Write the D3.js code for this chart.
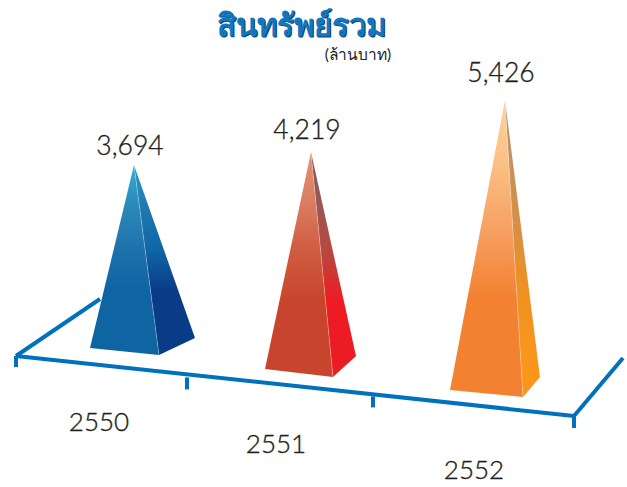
<!DOCTYPE html>
<meta charset="utf-8">
<style>
body { margin: 0; background: #fff; }
text { font-family: Lato, "Noto Sans", sans-serif; font-weight: 300; fill: #231f20; stroke: #231f20; stroke-width: 0.35px; }
.title { font-weight: 700; fill: #1277bf; stroke: none; }
.titleShadow { font-weight: 700; fill: #0b466f; stroke: none; }
.unit { font-weight: 400; stroke: none; }
</style>
<div id="chart"></div>
<script src="https://d3js.org/d3.v7.min.js"></script>
<script>

var years = [2550, 2551, 2552];
var values = [3694, 4219, 5426];
var valueLabels = ["3,694", "4,219", "5,426"];
var titleText = "สินทรัพย์รวม";
var unitText = "(ล้านบาท)";

// one colour list per pyramid, top to bottom
var leftColors = [
  ["#35add6", "#2a88b8", "#1f72ac", "#0e65a2", "#0e65a2"],
  ["#e58f73", "#dc7d62", "#cf5c40", "#c9442d", "#c9442d"],
  ["#fdd3a0", "#fbbf84", "#f6a062", "#f28232", "#f28232"]
];
var rightColors = [
  ["#2d9ac8", "#1f78b0", "#0f68a5", "#0a3b87", "#0a3b87"],
  ["#7d5a5c", "#98585a", "#b8473f", "#ed1c24", "#ed1c24"],
  ["#a89070", "#c4925c", "#d98f40", "#f0921f", "#fa961c"]
];

var width = 627, height = 487;

var svg = d3.select("#chart").append("svg")
    .attr("width", width)
    .attr("height", height);

var defs = svg.append("defs");

// the floor is in perspective so every pyramid gets its own numbers
var frontX = d3.scaleLinear().domain(years).range([159, 333, 523]);
var frontY = d3.scaleLinear().domain(years).range([355, 377, 397]);
var leftW = d3.scaleOrdinal().domain(years).range([69, 68, 73]);
var leftRise = d3.scaleOrdinal().domain(years).range([7, 8, 7]);
var rightW = d3.scaleOrdinal().domain(years).range([36, 23, 17]);
var rightRise = d3.scaleOrdinal().domain(years).range([17, 21, 20]);
var apexShift = d3.scaleOrdinal().domain(years).range([-25, -22, -18]);
var heightScale = d3.scaleLinear().domain(values).range([190, 225, 297]);
var labelGap = d3.scaleOrdinal().domain(years).range([10, 13, 18]);

// axis line runs through the tick positions
var axisX = d3.scaleLinear().domain([0, 3]).range([16, 574]);
var axisY = d3.scaleLinear().domain([16, 574]).range([356, 416]);
var tickX = d3.scaleOrdinal().domain([0, 1, 2, 3]).range([16, 187, 373, 574]);
var tickGap = d3.scaleOrdinal().domain([0, 1, 2, 3]).range([0, 3, 2, 0]);
var tickLen = d3.scaleOrdinal().domain([0, 1, 2, 3]).range([11, 15, 13, 12]);

function addGradient(id, stops) {
  var g = defs.append("linearGradient")
      .attr("id", id)
      .attr("x1", 0).attr("y1", 0).attr("x2", 0).attr("y2", 1);
  g.selectAll("stop").data(stops).enter().append("stop")
      .attr("offset", function(d, i) { return i * 0.22; })
      .attr("stop-color", function(d) { return d; });
}

years.forEach(function(y, i) {
  addGradient("left" + i, leftColors[i]);
  addGradient("right" + i, rightColors[i]);
});

// back edges of the floor, drawn first because the pyramids cover them
var axisG = svg.append("g")
    .attr("stroke", "#0071bc")
    .attr("fill", "none");

axisG.append("line")
    .attr("x1", axisX(0)).attr("y1", axisY(axisX(0)))
    .attr("x2", 100).attr("y2", 299)
    .attr("stroke-width", 4);

axisG.append("line")
    .attr("x1", axisX(3)).attr("y1", axisY(axisX(3)))
    .attr("x2", 623).attr("y2", 358)
    .attr("stroke-width", 4);

axisG.append("line")
    .attr("x1", axisX(0)).attr("y1", axisY(axisX(0)))
    .attr("x2", axisX(3)).attr("y2", axisY(axisX(3)))
    .attr("stroke-width", 4);

axisG.selectAll(".tick")
    .data([0, 1, 2, 3])
  .enter().append("line")
    .attr("class", "tick")
    .attr("x1", function(d) { return tickX(d); })
    .attr("x2", function(d) { return tickX(d); })
    .attr("y1", function(d) { return axisY(tickX(d)) + tickGap(d); })
    .attr("y2", function(d) { return axisY(tickX(d)) + tickLen(d); })
    .attr("stroke-width", 4);

var pyramids = svg.selectAll(".pyramid")
    .data(years)
  .enter().append("g")
    .attr("class", "pyramid");

function apex(y, i) {
  return [frontX(y) + apexShift(y), frontY(y) - heightScale(values[i])];
}

pyramids.append("path")
    .attr("fill", function(d, i) { return "url(#right" + i + ")"; })
    .attr("d", function(d, i) {
      return d3.line()([
        apex(d, i),
        [frontX(d) + rightW(d), frontY(d) - rightRise(d)],
        [frontX(d), frontY(d)]
      ]) + "Z";
    });

pyramids.append("path")
    .attr("fill", function(d, i) { return "url(#left" + i + ")"; })
    .attr("d", function(d, i) {
      return d3.line()([
        apex(d, i),
        [frontX(d), frontY(d)],
        [frontX(d) - leftW(d), frontY(d) - leftRise(d)]
      ]) + "Z";
    });

// thin light seam where the two faces meet
pyramids.append("line")
    .attr("x1", function(d, i) { return apex(d, i)[0]; })
    .attr("y1", function(d, i) { return apex(d, i)[1]; })
    .attr("x2", function(d) { return frontX(d); })
    .attr("y2", function(d) { return frontY(d); })
    .attr("stroke", "#fff")
    .attr("stroke-opacity", 0.35)
    .attr("stroke-width", 0.8);

pyramids.append("text")
    .attr("x", function(d, i) { return apex(d, i)[0] - 4; })
    .attr("y", function(d, i) { return apex(d, i)[1] - labelGap(d); })
    .attr("text-anchor", "middle")
    .attr("font-size", 26.5)
    .text(function(d, i) { return valueLabels[i]; });

// year labels sit lower and lower along the floor
var labelX = d3.scaleLinear().domain(years).range([99, 276, 474]);
var labelY = d3.scaleLinear().domain(years).range([431, 453, 479]);

svg.selectAll(".year")
    .data(years)
  .enter().append("text")
    .attr("class", "year")
    .attr("x", function(d) { return labelX(d); })
    .attr("y", function(d) { return labelY(d); })
    .attr("text-anchor", "middle")
    .attr("font-size", 26)
    .text(function(d) { return d; });

svg.append("text")
    .attr("class", "titleShadow")
    .attr("x", 302.5)
    .attr("y", 37)
    .attr("text-anchor", "middle")
    .attr("font-size", 31)
    .text(titleText);

svg.append("text")
    .attr("class", "title")
    .attr("x", 301.5)
    .attr("y", 36)
    .attr("text-anchor", "middle")
    .attr("font-size", 31)
    .text(titleText);

svg.append("text")
    .attr("class", "unit")
    .attr("x", 358)
    .attr("y", 60)
    .attr("text-anchor", "middle")
    .attr("font-size", 15.5)
    .text(unitText);

</script>
